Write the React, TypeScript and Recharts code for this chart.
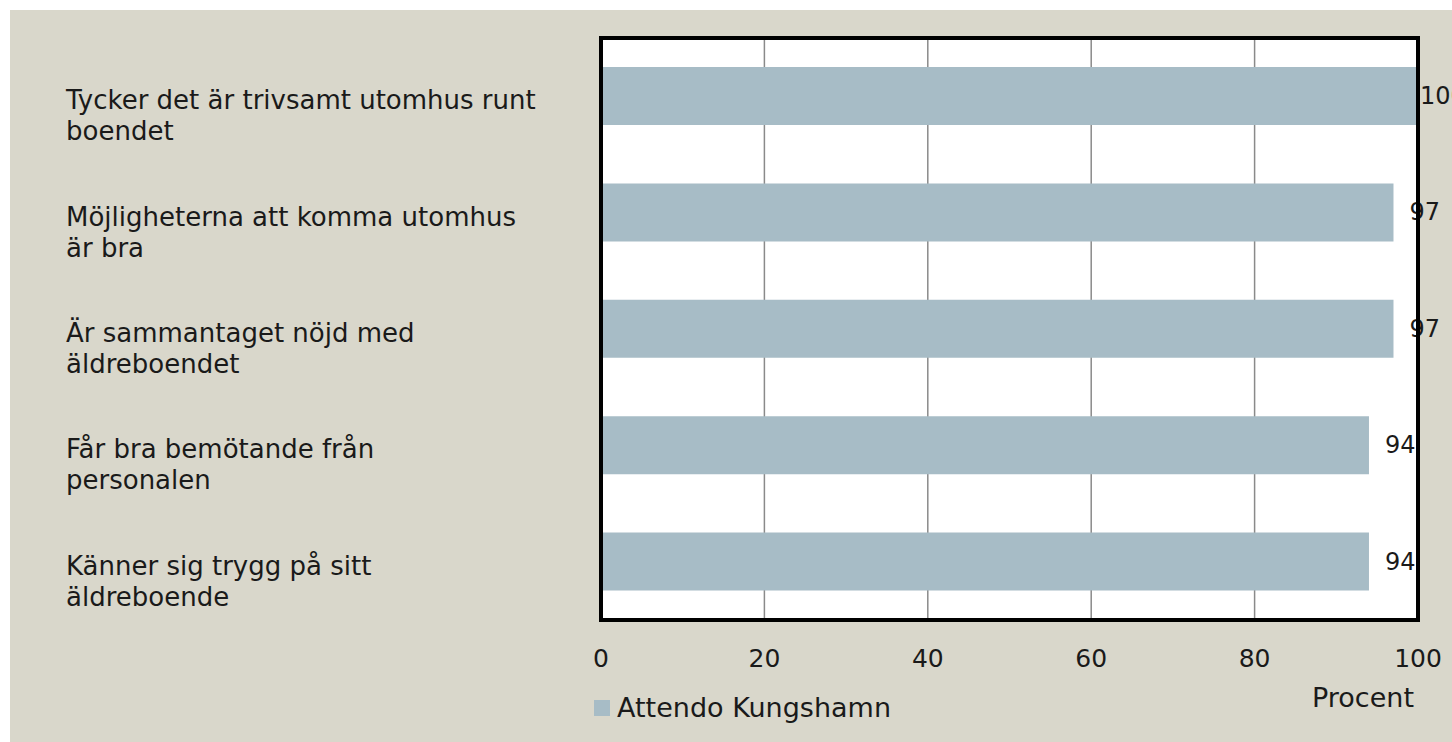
import React from "react";
import {
  BarChart,
  Bar,
  XAxis,
  YAxis,
  CartesianGrid,
  Legend,
  LabelList,
} from "recharts";

const categories = [
  "Tycker det är trivsamt utomhus runt\nboendet",
  "Möjligheterna att komma utomhus\när bra",
  "Är sammantaget nöjd med\näldreboendet",
  "Får bra bemötande från\npersonalen",
  "Känner sig trygg på sitt\näldreboende",
];
const values = [100, 97, 97, 94, 94];
const xTicks = [0, 20, 40, 60, 80, 100];
const seriesName = "Attendo Kungshamn";

const data = categories.map((label, i) => ({ label, share: values[i] }));

const FONT = "'DejaVu Sans', sans-serif";
const BAR = "#a7bcc6";
const BG = "#d9d7cb";
const TXT = "#1a1a1a";

function CategoryTick(props: any) {
  const { y, payload } = props;
  const lines = String(payload.value).split("\n");
  return (
    <g>
      {lines.map((line, i) => (
        <text
          key={i}
          x={56}
          y={y + 4 + i * 31}
          textAnchor="start"
          dominantBaseline="central"
          fontSize={26}
          fontFamily={FONT}
          fill={TXT}
        >
          {line}
        </text>
      ))}
    </g>
  );
}

const renderValue = (props: any) => {
  const { x, y, width, height, value } = props;
  // excel nudges the 100 label in against the frame
  const dx = Number(value) >= 100 ? 2 : 16;
  return (
    <text
      x={Number(x) + Number(width) + dx}
      y={Number(y) + Number(height) / 2}
      textAnchor="start"
      dominantBaseline="central"
      fontSize={24}
      fontFamily={FONT}
      fill={TXT}
    >
      {value}
    </text>
  );
};

function LegendBox() {
  return (
    <div style={{ display: "flex", alignItems: "center", fontFamily: FONT, fontSize: 27, color: TXT }}>
      <span style={{ width: 16, height: 16, background: BAR, display: "inline-block", marginRight: 7 }} />
      <span>{seriesName}</span>
    </div>
  );
}

export default function App() {
  return (
    <div style={{ position: "absolute", left: 0, top: 0, width: 1452, height: 742, background: "#fff" }}>
      <div style={{ position: "absolute", left: 10, top: 10, width: 1442, height: 732, background: BG }}>
        {/* white plot background, sits under the svg */}
        <div style={{ position: "absolute", left: 591, top: 28, width: 817, height: 582, background: "#fff" }} />
        <div style={{ position: "absolute", left: 0, top: 0 }}>
          <BarChart
            width={1442}
            height={732}
            data={data}
            layout="vertical"
            margin={{ top: 28, right: 34, left: 46, bottom: 20 }}
          >
            <CartesianGrid horizontal={false} stroke="#8a8a8a" strokeWidth={1.5} />
            <XAxis
              type="number"
              dataKey="share"
              domain={[0, 100]}
              ticks={xTicks}
              height={72}
              axisLine={false}
              tickLine={false}
              tickMargin={23}
              tick={{ fontSize: 25, fontFamily: FONT, fill: TXT }}
              label={{
                content: (p: any) => (
                  <text
                    x={p.viewBox.x + p.viewBox.width - 4}
                    y={p.viewBox.y + 77}
                    textAnchor="end"
                    dominantBaseline="central"
                    fontSize={27}
                    fontFamily={FONT}
                    fill={TXT}
                  >
                    Procent
                  </text>
                ),
              }}
            />
            <YAxis
              type="category"
              dataKey="label"
              width={545}
              axisLine={false}
              tickLine={false}
              tick={<CategoryTick />}
            />
            <Bar dataKey="share" fill={BAR} barSize={58} isAnimationActive={false}>
              <LabelList dataKey="share" content={renderValue} />
            </Bar>
            <Legend
              verticalAlign="bottom"
              align="left"
              height={30}
              content={<LegendBox />}
              wrapperStyle={{ left: 584, width: 400 }}
            />
          </BarChart>
        </div>
        {/* frame drawn over the plot */}
        <div
          style={{
            position: "absolute",
            left: 589,
            top: 26,
            width: 817,
            height: 582,
            border: "2px solid #000",
            outline: "2px solid #000",
            outlineOffset: -4,
            pointerEvents: "none",
          }}
        />
      </div>
    </div>
  );
}
